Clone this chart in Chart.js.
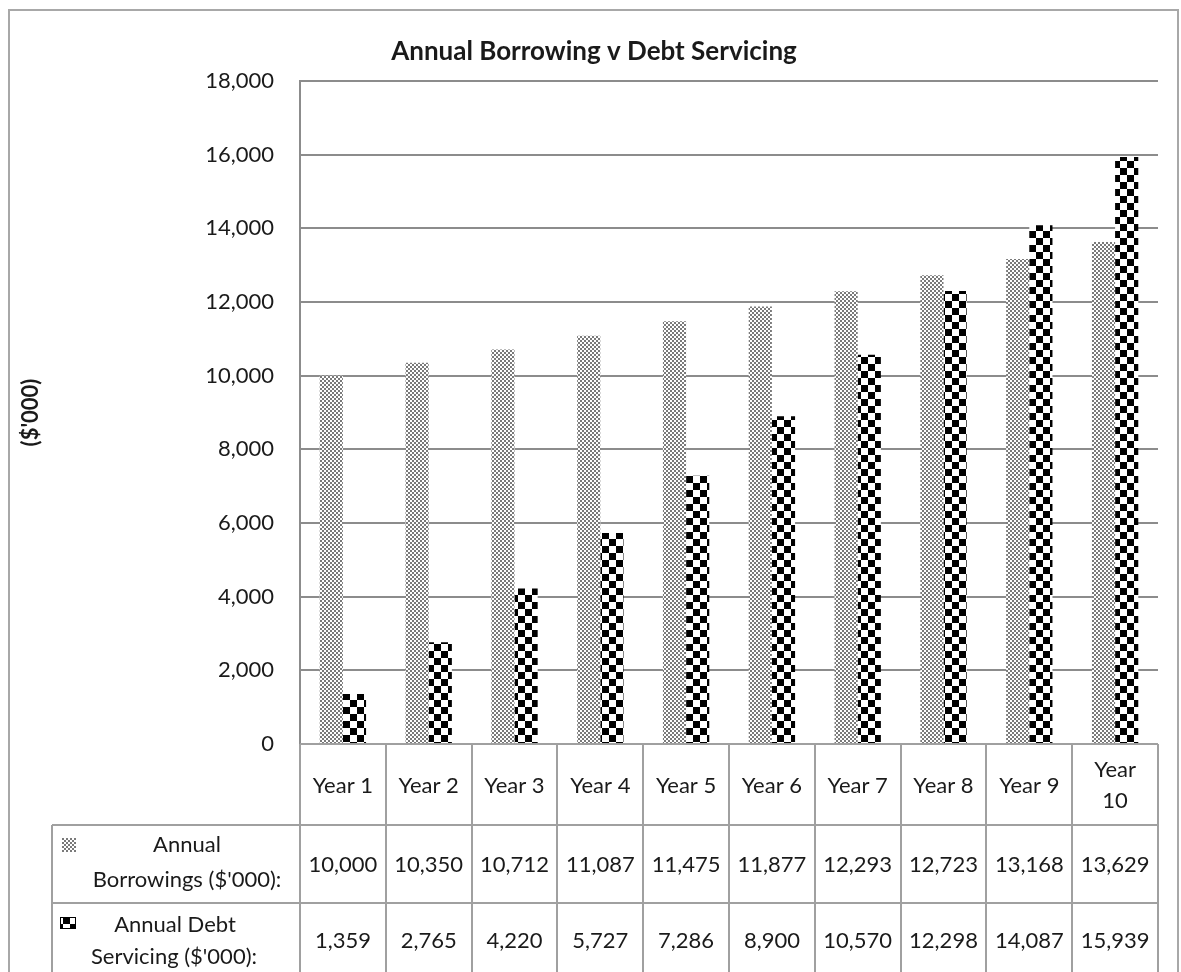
<!DOCTYPE html>
<html>
<head>
<meta charset="utf-8">
<script src="https://cdn.jsdelivr.net/npm/chart.js@4"></script>
<style>
  body { margin: 0; background: #fff; }
  canvas { display: block; }
</style>
</head>
<body>
<canvas id="myChart" width="1181" height="972"></canvas>
<script>
// data
let categories = ['Year 1', 'Year 2', 'Year 3', 'Year 4', 'Year 5', 'Year 6', 'Year 7', 'Year 8', 'Year 9', ['Year', '10']];
let borrowings = [10000, 10350, 10712, 11087, 11475, 11877, 12293, 12723, 13168, 13629];
let debtServicing = [1359, 2765, 4220, 5727, 7286, 8900, 10570, 12298, 14087, 15939];
let seriesNames = [['Annual', "Borrowings ($'000):"], ['Annual Debt', "Servicing ($'000):"]];
let yTicks = [0, 2000, 4000, 6000, 8000, 10000, 12000, 14000, 16000, 18000];
let chartTitle = 'Annual Borrowing v Debt Servicing';
let yTitle = "($'000)";

const FONT = 'Lato';
const lineGray = '#a0a0a0';
const textColor = '#1a1a1a';

// fill patterns like the old excel ones
function makeDots() {
    let tile = document.createElement('canvas');
    tile.width = 4; tile.height = 4;
    let t = tile.getContext('2d');
    t.fillStyle = '#fff';
    t.fillRect(0, 0, 4, 4);
    t.fillStyle = '#7a7a7a';
    t.fillRect(0, 0, 2, 2);
    t.fillRect(2, 2, 2, 2);
    return document.createElement('canvas').getContext('2d').createPattern(tile, 'repeat');
}
function makeChecker() {
    let tile = document.createElement('canvas');
    tile.width = 14; tile.height = 14;
    let t = tile.getContext('2d');
    t.fillStyle = '#fff';
    t.fillRect(0, 0, 14, 14);
    t.fillStyle = '#000';
    t.fillRect(0, 0, 7, 7);
    t.fillRect(7, 7, 7, 7);
    return document.createElement('canvas').getContext('2d').createPattern(tile, 'repeat');
}
let dots = makeDots();
let checker = makeChecker();

// title, outer frame and the data table under the plot
const tablePlugin = {
    id: 'tablePlugin',
    beforeDraw(chart) {
        let c = chart.ctx;
        c.save();
        c.fillStyle = '#fff';
        c.fillRect(0, 0, chart.width, chart.height);
        c.strokeStyle = '#a8a8a8';
        c.lineWidth = 2;
        c.strokeRect(9, 10, 1169, 1000);
        c.restore();
    },
    afterDraw(chart) {
        let c = chart.ctx;
        let area = chart.chartArea;
        let xs = chart.scales.x;
        let n = categories.length;
        let w = (area.right - area.left) / n;
        let row1 = area.bottom, row2 = 825, row3 = 903, bottom = chart.height + 5;
        let legendLeft = 52;

        c.save();
        // title
        c.fillStyle = textColor;
        c.font = 'bold 26px ' + FONT;
        c.textAlign = 'center';
        c.textBaseline = 'middle';
        c.fillText(chartTitle, 594, 52);

        // grid of the table
        c.strokeStyle = lineGray;
        c.lineWidth = 2;
        c.beginPath();
        c.moveTo(area.left, row1); c.lineTo(area.right, row1);
        c.moveTo(legendLeft, row2); c.lineTo(area.right, row2);
        c.moveTo(legendLeft, row3); c.lineTo(area.right, row3);
        c.moveTo(legendLeft, row2); c.lineTo(legendLeft, bottom);
        for (let i = 0; i <= n; i++) {
            let bx = Math.round(area.left + i * w);
            c.moveTo(bx, row1); c.lineTo(bx, bottom);
        }
        c.stroke();

        // header row and values
        c.font = '22px ' + FONT;
        c.fillStyle = textColor;
        categories.forEach((cat, i) => {
            let cx = xs.getPixelForValue(i);
            let lines = Array.isArray(cat) ? cat : [cat];
            let mid = (row1 + row2) / 2 + 1;
            lines.forEach((ln, k) => {
                c.fillText(ln, cx, mid + (k - (lines.length - 1) / 2) * 31);
            });
            c.fillText(borrowings[i].toLocaleString('en-US'), cx, (row2 + row3) / 2 + 1);
            c.fillText(debtServicing[i].toLocaleString('en-US'), cx, 941);
        });

        // legend cells
        c.fillText(seriesNames[0][0], 187, 845);
        c.fillText(seriesNames[0][1], 187, 880);
        c.fillText(seriesNames[1][0], 175, 925);
        c.fillText(seriesNames[1][1], 174, 957);

        c.fillStyle = dots;
        c.fillRect(62, 838, 14, 14);
        c.fillStyle = checker;
        c.fillRect(60, 917, 16, 12);
        c.strokeStyle = '#000';
        c.lineWidth = 1;
        c.strokeRect(60.5, 917.5, 15, 11);
        c.restore();
    }
};

var ctx = document.getElementById('myChart').getContext('2d');
var chart = new Chart(ctx, {
    type: 'bar',
    data: {
        labels: categories,
        datasets: [{
            label: seriesNames[0].join(' '),
            backgroundColor: dots,
            borderWidth: 0,
            data: borrowings
        }, {
            label: seriesNames[1].join(' '),
            backgroundColor: checker,
            borderWidth: 0,
            data: debtServicing
        }]
    },
    options: {
        responsive: false,
        animation: false,
        devicePixelRatio: 1,
        layout: { padding: { left: 0, right: 23, top: 81, bottom: 228 } },
        datasets: { bar: { categoryPercentage: 0.54, barPercentage: 1.0 } },
        plugins: {
            legend: { display: false },
            title: { display: false },
            tooltip: { enabled: false }
        },
        scales: {
            x: { display: false },
            y: {
                min: 0,
                max: 18000,
                afterFit: (scale) => { scale.width = 300; },
                afterBuildTicks: (scale) => { scale.ticks = yTicks.map(v => ({ value: v })); },
                ticks: {
                    padding: 26,
                    color: textColor,
                    font: { family: FONT, size: 22 },
                    callback: (v) => v.toLocaleString('en-US')
                },
                grid: { color: '#8c8c8c', lineWidth: 2, drawTicks: false },
                border: { color: '#8c8c8c', width: 2 },
                title: {
                    display: true,
                    text: yTitle,
                    color: textColor,
                    font: { family: FONT, size: 22, weight: 'bold' },
                    padding: { top: 18, bottom: 0 }
                }
            }
        }
    },
    plugins: [tablePlugin]
});
</script>
</body>
</html>
